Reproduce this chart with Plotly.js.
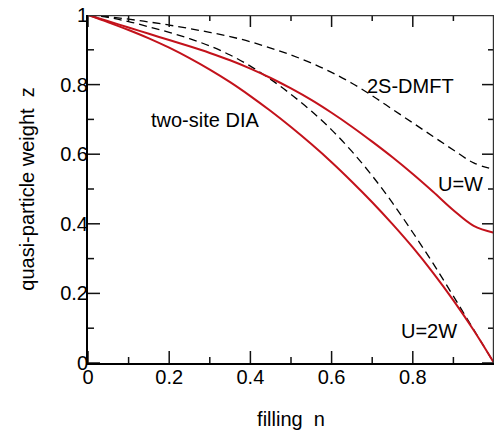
<!DOCTYPE html>
<html>
<head>
<meta charset="utf-8">
<script src="https://cdn.plot.ly/plotly-3.0.1.min.js"></script>
<style>body{margin:0;padding:0;background:#fff;} #chart{width:498px;height:430px;}</style>
</head>
<body>
<div id="chart"></div>
<script>
// filling n
const filling = [0,0.05,0.1,0.15,0.2,0.25,0.3,0.35,0.4,0.45,0.5,0.55,0.6,0.65,0.7,0.75,0.8,0.85,0.9,0.95,1.0];
// 2S-DMFT, U=W (dashed, upper)
const dmftUW  = [1.000,0.995,0.988,0.980,0.971,0.961,0.950,0.938,0.923,0.905,0.885,0.862,0.835,0.804,0.768,0.729,0.690,0.651,0.612,0.575,0.556];
// 2S-DMFT, U=2W (dashed, lower)
const dmftU2W = [1.000,0.993,0.981,0.966,0.950,0.932,0.911,0.885,0.853,0.815,0.772,0.724,0.670,0.608,0.538,0.460,0.375,0.286,0.192,0.096,0.000];
// two-site DIA, U=W (red, upper)
const diaUW   = [1.000,0.982,0.964,0.946,0.928,0.910,0.891,0.870,0.846,0.819,0.789,0.756,0.719,0.679,0.636,0.591,0.543,0.492,0.439,0.394,0.374];
// two-site DIA, U=2W (red, lower)
const diaU2W  = [1.000,0.979,0.957,0.933,0.906,0.876,0.843,0.807,0.767,0.724,0.678,0.629,0.577,0.521,0.462,0.399,0.332,0.259,0.180,0.094,0.000];

const majorTicks = [0,0.2,0.4,0.6,0.8,1];
const majorTickText = ['0','0.2','0.4','0.6','0.8','1'];
const minorTicks = [0.1,0.3,0.5,0.7,0.9];

const labels = [
  {text:'2S-DMFT', x:0.794, y:0.797},
  {text:'U=W', x:0.918, y:0.515},
  {text:'two-site DIA', x:0.287, y:0.698},
  {text:'U=2W', x:0.840, y:0.091}
];

const W = 498, H = 430;
const M = {l:88, r:4, t:15, b:67};
const plotW = W - M.l - M.r, plotH = H - M.t - M.b;

const red = '#c3121b';
const dashLine = {color:'#000', width:1.3, dash:'8px,5px', shape:'spline', smoothing:1};
const redLine = {color:red, width:2, shape:'spline', smoothing:1};

// inward tick marks on all four sides, built from the tick arrays
function tickTrace(vals, lenPx){
  const ly = lenPx / plotH, lx = lenPx / plotW;
  const xs = [], ys = [];
  vals.forEach(v => {
    xs.push(v, v, null, v, v, null, 0, lx, null, 1, 1 - lx, null);
    ys.push(0, ly, null, 1, 1 - ly, null, v, v, null, v, v, null);
  });
  return {x:xs, y:ys, mode:'lines', line:{color:'#111', width:1.5}, hoverinfo:'skip', connectgaps:false};
}

const traces = [
  {x:filling, y:dmftUW, mode:'lines', line:dashLine, hoverinfo:'skip'},
  {x:filling, y:dmftU2W, mode:'lines', line:dashLine, hoverinfo:'skip'},
  {x:filling, y:diaUW, mode:'lines', line:redLine, hoverinfo:'skip'},
  {x:filling, y:diaU2W, mode:'lines', line:redLine, hoverinfo:'skip'},
  tickTrace(majorTicks, 12),
  tickTrace(minorTicks, 6),
  // thin top and right frame lines
  {x:[0,1,1], y:[1,1,0], mode:'lines', line:{color:'#333', width:2.4}, hoverinfo:'skip'}
];

const font = {family:'"Liberation Sans", Arial, Helvetica, sans-serif', size:20, color:'#000'};

const layout = {
  width:W, height:H,
  margin:M,
  paper_bgcolor:'#fff', plot_bgcolor:'#fff',
  showlegend:false,
  font:font,
  xaxis: {
    range:[0,1], autorange:false, showgrid:false, zeroline:false, automargin:false,
    showline:true, linewidth:2, linecolor:'#000',
    ticks:'', tickmode:'array', tickvals:majorTicks, ticktext:majorTickText, tickfont:font,
    ticklabelstandoff:-5,
    title:{text:'filling\u00a0\u00a0n', font:font, standoff:28}
  },
  yaxis: {
    range:[0,1], autorange:false, showgrid:false, zeroline:false, automargin:false,
    showline:true, linewidth:2, linecolor:'#000',
    ticks:'', tickmode:'array', tickvals:majorTicks, ticktext:majorTickText, tickfont:font,
    ticklabelstandoff:-6,
    title:{text:'quasi-particle weight\u00a0\u00a0z', font:font, standoff:20}
  },
  annotations: labels.map(l => ({
    text:l.text, x:l.x, y:l.y, xref:'x', yref:'y', showarrow:false,
    font:font, xanchor:'center', yanchor:'middle'
  }))
};

Plotly.newPlot('chart', traces, layout, {displayModeBar:false});
</script>
</body>
</html>
